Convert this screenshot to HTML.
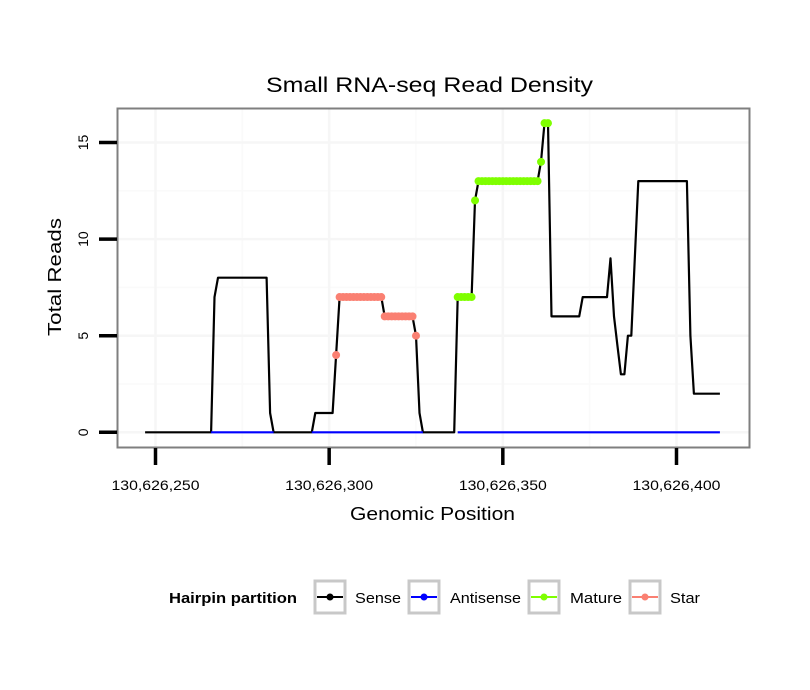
<!DOCTYPE html>
<html><head><meta charset="utf-8"><style>
body{margin:0;background:#fff;}
svg{display:block;font-family:"Liberation Sans",Arial,sans-serif;}
</style></head><body>
<svg id="chart" width="810" height="690" viewBox="0 0 810 690">
<rect width="810" height="690" fill="#fff"/>
<text x="266" y="92" font-size="21.5" textLength="327" lengthAdjust="spacingAndGlyphs" fill="#000">Small RNA-seq Read Density</text>
<g id="grid"></g>
<rect x="117.5" y="108.5" width="632" height="339" fill="none" stroke="#7f7f7f" stroke-width="2"/>
<g id="series"></g>
<g id="axes"></g>
<text x="350" y="520" font-size="18.5" textLength="165" lengthAdjust="spacingAndGlyphs">Genomic Position</text>
<text transform="translate(61,336) rotate(-90)" font-size="18.5" textLength="118" lengthAdjust="spacingAndGlyphs">Total Reads</text>
<g font-size="15">
<text x="169" y="603" font-weight="bold" textLength="128" lengthAdjust="spacingAndGlyphs">Hairpin partition</text>
<g>
<rect x="315" y="581" width="30" height="32" fill="#fff" stroke="#c8c8c8" stroke-width="3"/>
<line x1="317" y1="597" x2="343" y2="597" stroke="#000" stroke-width="2"/><circle cx="330" cy="597" r="3.5" fill="#000"/>
<text x="355" y="603" textLength="46" lengthAdjust="spacingAndGlyphs">Sense</text></g>
<g>
<rect x="409" y="581" width="30" height="32" fill="#fff" stroke="#c8c8c8" stroke-width="3"/>
<line x1="411" y1="597" x2="437" y2="597" stroke="#0000ff" stroke-width="2"/><circle cx="424" cy="597" r="3.5" fill="#0000ff"/>
<text x="450" y="603" textLength="71" lengthAdjust="spacingAndGlyphs">Antisense</text></g>
<g>
<rect x="529" y="581" width="30" height="32" fill="#fff" stroke="#c8c8c8" stroke-width="3"/>
<line x1="531" y1="597" x2="557" y2="597" stroke="#7fff00" stroke-width="2"/><circle cx="544" cy="597" r="3.5" fill="#7fff00"/>
<text x="570" y="603" textLength="52" lengthAdjust="spacingAndGlyphs">Mature</text></g>
<g>
<rect x="630" y="581" width="30" height="32" fill="#fff" stroke="#c8c8c8" stroke-width="3"/>
<line x1="632" y1="597" x2="658" y2="597" stroke="#fa8072" stroke-width="2"/><circle cx="645" cy="597" r="3.5" fill="#fa8072"/>
<text x="670" y="603" textLength="30" lengthAdjust="spacingAndGlyphs">Star</text></g>
</g>
</svg>
<script>
const BASE = 130626000;
const xTicks = [250, 300, 350, 400];
const xTickLabels = ["130,626,250", "130,626,300", "130,626,350", "130,626,400"];
const yTicks = [0, 5, 10, 15];
const yTickLabels = ["0", "5", "10", "15"];
const sensePos = [247,266,267,268,282,283,284,295,296,301,302,303,315,316,324,325,326,327,336,337,341,342,343,360,361,362,363,364,372,373,380,381,382,383,384,385,386,387,389,403,404,405,412.5];
const senseVal = [0,0,7,8,8,1,0,0,1,1,4,7,7,6,6,5,1,0,0,7,7,12,13,13,14,16,16,6,6,7,7,9,6,4.5,3,3,5,5,13,13,5,2,2];
const antisenseRanges = [[266,284],[295,327],[337,412.5]];
const maturePos = [337,338,339,340,341,342,343,344,345,346,347,348,349,350,351,352,353,354,355,356,357,358,359,360,361,362,363];
const matureVal = [7,7,7,7,7,12,13,13,13,13,13,13,13,13,13,13,13,13,13,13,13,13,13,13,14,16,16];
const starPos = [302,303,304,305,306,307,308,309,310,311,312,313,314,315,316,317,318,319,320,321,322,323,324,325];
const starVal = [4,7,7,7,7,7,7,7,7,7,7,7,7,7,6,6,6,6,6,6,6,6,6,5];

const NS = "http://www.w3.org/2000/svg";
function X(p){ return 155.5 + (p - 250) * 3.4733; }
function Y(v){ return 432.3 - v * 19.32; }
function mk(tag, attrs, parent){ const e = document.createElementNS(NS, tag); for (const k in attrs) e.setAttribute(k, attrs[k]); parent.appendChild(e); return e; }
const grid = document.getElementById('grid'), series = document.getElementById('series'), axes = document.getElementById('axes');
mk('rect', {x:118, y:109, width:631, height:338, fill:'#fff'}, grid);
[2.5,7.5,12.5].forEach(v => { const l = mk('line', {x1:118, x2:749, y1:Y(v), y2:Y(v), stroke:'#fafafa', 'stroke-width':1.5}, grid);

 });
[275,325,375].forEach(p => { const l = mk('line', {x1:X(p), x2:X(p), y1:109, y2:447, stroke:'#fafafa', 'stroke-width':1.5}, grid);

 });
yTicks.forEach(v => { const l = mk('line', {x1:118, x2:749, y1:Y(v), y2:Y(v), stroke:'#f6f6f6', 'stroke-width':2.5}, grid);

 });
xTicks.forEach(p => { const l = mk('line', {x1:X(p), x2:X(p), y1:109, y2:447, stroke:'#f6f6f6', 'stroke-width':2.5}, grid);

 });

const sensePts = sensePos.map((p,i) => X(p).toFixed(1) + ',' + Y(senseVal[i]).toFixed(1)).join(' ');
const sl = mk('polyline', {points:sensePts, fill:'none', stroke:'#000', 'stroke-width':2.2, 'stroke-linejoin':'round'}, series);


antisenseRanges.forEach(r => { const l = mk('line', {x1:X(r[0]), x2:X(r[1]), y1:Y(0), y2:Y(0), stroke:'#0000ff', 'stroke-width':2.2}, series);

 });
starPos.forEach((p,i) => { const c = mk('circle', {cx:X(p), cy:Y(starVal[i]), r:4, fill:'#fa8072'}, series);

 });
maturePos.forEach((p,i) => { const c = mk('circle', {cx:X(p), cy:Y(matureVal[i]), r:4, fill:'#7fff00'}, series);

 });

xTicks.forEach((p,i) => {
const t = mk('line', {x1:X(p), x2:X(p), y1:448, y2:465, stroke:'#000', 'stroke-width':3.5}, axes);


const tx = mk('text', {x:X(p), y:490, 'text-anchor':'middle', 'font-size':14, textLength:88, lengthAdjust:'spacingAndGlyphs'}, axes);
tx.textContent = xTickLabels[i];


});
yTicks.forEach((v,i) => {
const t = mk('line', {x1:99, x2:117, y1:Y(v), y2:Y(v), stroke:'#000', 'stroke-width':3.5}, axes);


const tx = mk('text', {transform:'translate(88,' + Y(v) + ') rotate(-90)', 'text-anchor':'middle', 'font-size':14}, axes);
tx.textContent = yTickLabels[i];


});
</script>
</body></html>
